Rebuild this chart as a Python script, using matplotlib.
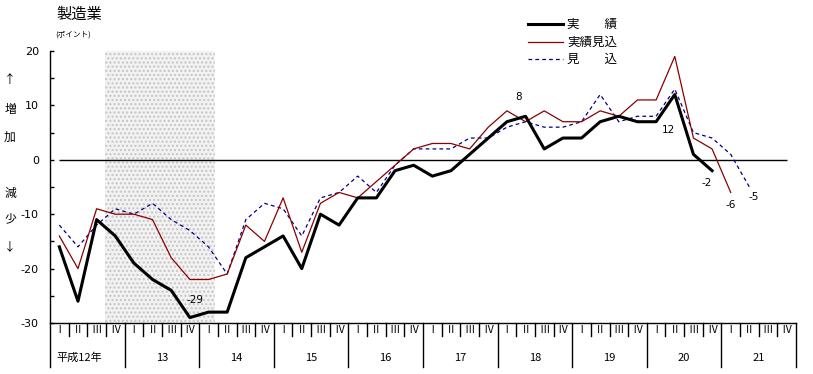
import matplotlib
matplotlib.use('Agg')
import matplotlib.pyplot as plt
from matplotlib.ticker import MultipleLocator, FixedLocator
import numpy as np

plt.rcParams['font.family'] = ['Noto Sans CJK JP', 'DejaVu Sans']
plt.rcParams['axes.unicode_minus'] = False

# ---- data ----
quarter_labels = ['Ⅰ', 'Ⅱ', 'Ⅲ', 'Ⅳ'] * 10
year_labels = ['平成12年', '13', '14', '15', '16', '17', '18', '19', '20', '21']

actual = [-16, -26, -11, -14, -19, -22, -24, -29, -28, -28, -18, -16, -14, -20,
          -10, -12, -7, -7, -2, -1, -3, -2, 1, 4, 7, 8, 2, 4, 4, 7, 8, 7, 7, 12,
          1, -2]
estimate = [-14, -20, -9, -10, -10, -11, -18, -22, -22, -21, -12, -15, -7, -17,
            -8, -6, -7, -4, -1, 2, 3, 3, 2, 6, 9, 7, 9, 7, 7, 9, 8, 11, 11, 19,
            4, 2, -6]
forecast = [-12, -16, -12, -9, -10, -8, -11, -13, -16, -21, -11, -8, -9, -14,
            -7, -6, -3, -6, -1, 2, 2, 2, 4, 4, 6, 7, 6, 6, 7, 12, 7, 8, 8, 13,
            5, 4, 1, -5]

legend_labels = ['実\u3000\u3000績', '実績見込', '見\u3000\u3000込']

W, H = 813, 374
fig = plt.figure(figsize=(W / 100, H / 100), dpi=100)
ax_left, ax_right, ax_top, ax_bot = 50, 796, 51, 323
ax = fig.add_axes([ax_left / W, 1 - ax_bot / H, (ax_right - ax_left) / W,
                   (ax_bot - ax_top) / H])

n_q = len(quarter_labels)
ax.set_xlim(-0.5, n_q - 0.5)
ax.set_ylim(-30, 20)

# recession shading
ax.axvspan(2.45, 8.35, facecolor='#f2f2f2', edgecolor='#c4c4c4', hatch='....',
           linewidth=0, zorder=0)

# zero line
ax.hlines(0, 0, n_q - 1, color='black', lw=1.0, zorder=1)

black_c = '#000000'
red_c = '#8b0000'
blue_c = '#000080'

ax.plot(np.arange(len(forecast)), forecast, color=blue_c, lw=0.9,
        dashes=(3, 2.5), zorder=2)
ax.plot(np.arange(len(estimate)), estimate, color=red_c, lw=0.9, zorder=3)
ax.plot(np.arange(len(actual)), actual, color=black_c, lw=2.2, zorder=4)

# data labels
lab_kw = dict(textcoords='offset pixels', ha='center', va='center', fontsize=7.5,
              family=['DejaVu Sans'])
ax.annotate('-29', (7, actual[7]), xytext=(5, 18), **lab_kw)
ax.annotate('8', (25, actual[25]), xytext=(-7, 19), **lab_kw)
ax.annotate('12', (33, actual[33]), xytext=(-6, -35), **lab_kw)
ax.annotate('-2', (35, actual[35]), xytext=(-5, -12), **lab_kw)
ax.annotate('-6', (36, estimate[36]), xytext=(0, -13), **lab_kw)
ax.annotate('-5', (37, forecast[37]), xytext=(4, -10), **lab_kw)

# spines / y ticks
for s in ['top', 'right']:
    ax.spines[s].set_visible(False)
ax.spines['left'].set_linewidth(1.0)
ax.spines['bottom'].set_linewidth(1.0)
ax.yaxis.set_major_locator(FixedLocator([20, 10, 0, -10, -20, -30]))
ax.yaxis.set_minor_locator(MultipleLocator(5))
ax.tick_params(axis='y', which='major', direction='in', length=3, width=1,
               labelsize=8, pad=8)
ax.tick_params(axis='y', which='minor', direction='in', length=3, width=1)
for t in ax.get_yticklabels():
    t.set_family(['DejaVu Sans'])
ax.set_xticks([])

# x axis: quarters and years
tr = ax.get_xaxis_transform()
ah = ax_bot - ax_top
def ay(py):
    return (ax_bot - py) / ah

for k in range(n_q + 1):
    xb = k - 0.5
    if k % 4 == 0:
        ax.plot([xb, xb], [0, ay(367)], color='black', lw=1.0, transform=tr,
                clip_on=False)
    else:
        ax.plot([xb, xb], [0, ay(336)], color='black', lw=1.0, transform=tr,
                clip_on=False)
for k, q in enumerate(quarter_labels):
    ax.text(k, ay(330), q, transform=tr, ha='center', va='center', fontsize=7.5)
for j, yl in enumerate(year_labels):
    xc = 4 * j + 1.5
    if j == 0:
        xc = 1.1
    ax.text(xc, ay(358), yl, transform=tr, ha='center', va='center', fontsize=8)

# titles / side text
def ft(px, py):
    return px / W, 1 - py / H

fig.text(*ft(79, 14), '製造業', ha='center', va='center', fontsize=11)
fig.text(*ft(73, 35), '(ポイント)', ha='center', va='center', fontsize=5.5)
for ch, py in [('↑', 79), ('増', 110), ('加', 137), ('減', 193), ('少', 219), ('↓', 247)]:
    fig.text(*ft(10, py), ch, ha='center', va='center', fontsize=8.5)

# legend (manual)
leg_rows = [24, 42, 59]
styles = [dict(color=black_c, lw=2.2), dict(color=red_c, lw=0.9),
          dict(color=blue_c, lw=0.9, dashes=(3, 2.5))]
for lab, py, st in zip(legend_labels, leg_rows, styles):
    x0, y0 = ft(528, py)
    x1, _ = ft(563, py)
    fig.add_artist(plt.Line2D([x0, x1], [y0, y0], transform=fig.transFigure, **st))
    fig.text(*ft(567, py), lab, ha='left', va='center', fontsize=9)

fig.savefig('out.png', dpi=100)
